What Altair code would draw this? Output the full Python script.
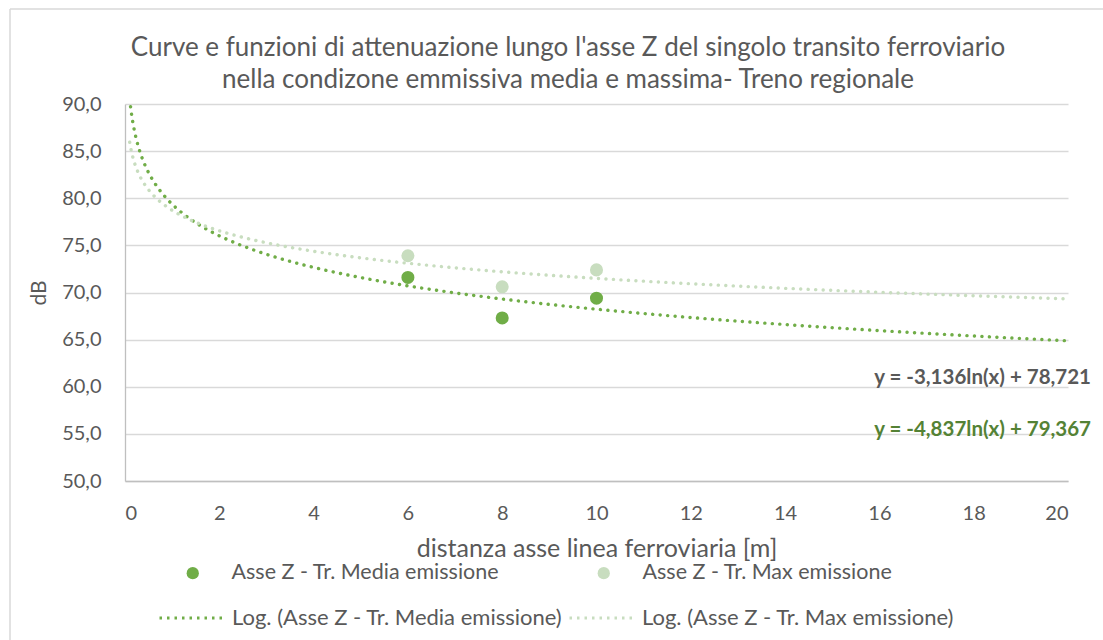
import altair as alt
import pandas as pd

# Measured levels along the Z axis (distance in metres, level in dB)
distanza = [6, 8, 10]
livello_media = [71.6, 67.3, 69.4]
livello_max = [73.9, 70.6, 72.4]

serie_punti = ["Asse Z - Tr. Media emissione", "Asse Z - Tr. Max emissione"]
serie_log = ["Log. (Asse Z - Tr. Media emissione)", "Log. (Asse Z - Tr. Max emissione)"]

# Logarithmic trend lines y = a*ln(x) + b
coeff_a = [-4.837, -3.136]
coeff_b = [79.367, 78.721]
equazioni = ["y = -4,837ln(x) + 79,367", "y = -3,136ln(x) + 78,721"]

titolo = ["Curve e funzioni di attenuazione lungo l'asse Z del singolo transito ferroviario",
          "nella condizone emmissiva media e massima- Treno regionale"]

VERDE = "#70AD47"
VERDE_CHIARO = "#C8DDBF"
TESTO = "#595959"
FONT = "Lato"

punti = pd.DataFrame({
    "x": distanza * 2,
    "y": livello_media + livello_max,
    "serie": [serie_punti[0]] * 3 + [serie_punti[1]] * 3,
})

x_scale = alt.Scale(domain=[0, 20], nice=False)
y_scale = alt.Scale(domain=[50, 90], nice=False)

x_axis = alt.Axis(values=list(range(0, 21, 2)), grid=False, ticks=False, tickSize=0,
                  labelPadding=22, labelFontSize=20, title="distanza asse linea ferroviaria [m]",
                  titleFontSize=25, titleFontWeight="normal", titlePadding=13)
y_axis = alt.Axis(values=list(range(50, 91, 5)), grid=True, ticks=False, tickSize=0,
                  labelPadding=24, labelFontSize=20, title="dB", titleFontSize=21,
                  titleFontWeight="normal", titlePadding=12,
                  labelExpr="replace(format(datum.value, '.1f'), '.', ',')")

# Trend curves sampled by Vega from the fitted coefficients
curve = (
    alt.Chart(alt.sequence(0.1, 20.02, 0.02, as_="x"))
    .transform_calculate(
        m=f"{coeff_a[0]} * log(datum.x) + {coeff_b[0]}",
        M=f"{coeff_a[1]} * log(datum.x) + {coeff_b[1]}",
    )
    .transform_fold(["m", "M"], as_=["k", "y"])
    .transform_calculate(
        serie=f"datum.k == 'm' ? '{serie_log[0]}' : '{serie_log[1]}'"
    )
    .mark_line(strokeWidth=3.4, strokeDash=[0.1, 7.4], strokeCap="round", clip=True)
    .encode(
        x=alt.X("x:Q", scale=x_scale, axis=x_axis),
        y=alt.Y("y:Q", scale=y_scale, axis=y_axis),
        stroke=alt.Stroke(
            "serie:N",
            scale=alt.Scale(domain=serie_log, range=[VERDE, VERDE_CHIARO]),
            legend=alt.Legend(
                title=None, orient="none", direction="horizontal",
                legendX=33, legendY=480, symbolType="stroke", symbolSize=4225,
                symbolStrokeWidth=3, symbolDash=[2.5, 5], labelOffset=6,
                labelFontSize=22, labelLimit=500, columnPadding=0, padding=0,
            ),
        ),
        order=alt.Order("k:N", sort="ascending"),
    )
)

marks = (
    alt.Chart(punti)
    .mark_circle(size=170, opacity=1)
    .encode(
        x=alt.X("x:Q", scale=x_scale),
        y=alt.Y("y:Q", scale=y_scale),
        color=alt.Color(
            "serie:N",
            scale=alt.Scale(domain=serie_punti, range=[VERDE, VERDE_CHIARO]),
            legend=alt.Legend(
                title=None, orient="none", direction="horizontal",
                legendX=57, legendY=458, symbolType="circle", symbolSize=150,
                labelOffset=28, labelFontSize=21.5, labelLimit=500, columnPadding=93, padding=0,
                symbolStrokeWidth=0, symbolOpacity=1,
            ),
        ),
    )
)

eq_data = pd.DataFrame({"testo": equazioni})
eq_media = alt.Chart(eq_data.iloc[[0]]).mark_text(
    align="right", baseline="middle", fontSize=20.5, fontWeight="bold", color="#548235", font=FONT
).encode(x=alt.value(966), y=alt.value(326), text="testo:N")
eq_max = alt.Chart(eq_data.iloc[[1]]).mark_text(
    align="right", baseline="middle", fontSize=20.5, fontWeight="bold", color=TESTO, font=FONT
).encode(x=alt.value(966), y=alt.value(274), text="testo:N")

# Two-line chart heading
tit_data = pd.DataFrame({"riga": titolo})
tit_1 = alt.Chart(tit_data.iloc[[0]]).mark_text(
    align="center", baseline="middle", fontSize=26, color=TESTO, font=FONT
).encode(x=alt.value(443), y=alt.value(-56), text="riga:N")
tit_2 = alt.Chart(tit_data.iloc[[1]]).mark_text(
    align="center", baseline="middle", fontSize=26, color=TESTO, font=FONT
).encode(x=alt.value(443), y=alt.value(-24), text="riga:N")

# Top and left edges of the chart-area frame
frame_df = pd.DataFrame({"c": [0]})
bordo_sup = alt.Chart(frame_df).mark_rule(
    stroke="#D9D9D9", strokeWidth=1.5, clip=False
).encode(x=alt.value(-115), x2=alt.value(1000), y=alt.value(-95))
bordo_sx = alt.Chart(frame_df).mark_rule(
    stroke="#D9D9D9", strokeWidth=1.5, clip=False
).encode(x=alt.value(-115), y=alt.value(-95), y2=alt.value(600))

chart = (
    alt.layer(bordo_sup, bordo_sx, curve, marks, eq_max, eq_media, tit_1, tit_2)
    .resolve_scale(color="independent", stroke="independent")
    .properties(
        width=943,
        height=377,
        autosize="none",
        padding={"left": 125, "top": 104, "right": 35, "bottom": 159},
    )
    .configure(font=FONT, background="white")
    .configure_view(stroke=None)
    .configure_axis(
        labelColor=TESTO, titleColor=TESTO, labelFont=FONT, titleFont=FONT,
        gridColor="#D9D9D9", gridWidth=1.3, domainColor="#BFBFBF", domainWidth=1.3,
    )
    .configure_legend(labelColor=TESTO, labelFont=FONT)
)

chart.save("out.html", embed_options={"renderer": "svg", "actions": False})
